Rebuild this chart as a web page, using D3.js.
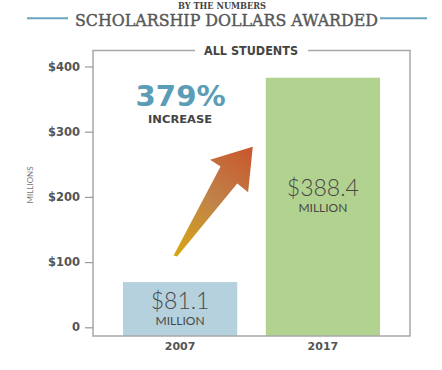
<!DOCTYPE html>
<html><head><meta charset="utf-8">
<script src="https://cdn.jsdelivr.net/npm/d3@7"></script>
<style>html,body{margin:0;padding:0;background:#fff;}svg{display:block;}</style>
</head><body>
<svg id="chart" width="442" height="370"></svg>
<script>
const categories = ["2007", "2017"];
const values = [81.1, 388.4];
const valueLabels = ["$81.1", "$388.4"];
const unitLabel = "MILLION";
const tickValues = [0, 100, 200, 300, 400];
const tickLabels = ["0", "$100", "$200", "$300", "$400"];
const barColors = ["#b4d1dd", "#b2d28f"];
const kicker = "BY THE NUMBERS";
const title = "SCHOLARSHIP DOLLARS AWARDED";
const subtitle = "ALL STUDENTS";
const yTitle = "MILLIONS";
const increaseValue = "379%";
const increaseLabel = "INCREASE";

const svg = d3.select("#chart");
const L = 93, R = 410, T = 50.5, B = 336;
const grey = "#555", sans = "'DejaVu Sans', sans-serif", lato = "Lato, 'Open Sans', sans-serif";

// Header
svg.append("text").attr("x", 222).attr("y", 8.5).attr("text-anchor", "middle")
  .attr("font-family", "'DejaVu Serif', serif").attr("font-weight", "bold").attr("font-size", 8.5)
  .attr("fill", "#444").attr("textLength", 88).attr("lengthAdjust", "spacingAndGlyphs").text(kicker);
svg.append("text").attr("x", 226.5).attr("y", 26).attr("text-anchor", "middle")
  .attr("font-family", "'DejaVu Serif', serif").attr("font-size", 17.5)
  .attr("fill", "#575757").attr("stroke", "#575757").attr("stroke-width", 0.45)
  .attr("textLength", 303).attr("lengthAdjust", "spacingAndGlyphs").text(title);
svg.append("line").attr("x1", 27).attr("x2", 68).attr("y1", 18.3).attr("y2", 18.3)
  .attr("stroke", "#6aa6bf").attr("stroke-width", 2);
svg.append("line").attr("x1", 380).attr("x2", 427).attr("y1", 18.3).attr("y2", 18.3)
  .attr("stroke", "#6aa6bf").attr("stroke-width", 2);

// Scales
const x = d3.scaleBand().domain(categories).range([L, R]).paddingInner(0.2).paddingOuter(0.21);
const yAxisScale = d3.scaleLinear().domain([0, 400]).range([327.3, 66.5]);
const yBar = d3.scaleLinear().domain([0, 400]).range([B, 70]);

// Bars
svg.selectAll("rect.bar").data(values).join("rect").attr("class", "bar")
  .attr("x", (d, i) => x(categories[i])).attr("width", x.bandwidth())
  .attr("y", d => yBar(d)).attr("height", d => yBar(0) - yBar(d))
  .attr("fill", (d, i) => barColors[i]);

// Frame
const frame = d3.path();
frame.moveTo(195, T); frame.lineTo(L, T); frame.lineTo(L, B); frame.lineTo(R, B); frame.lineTo(R, T); frame.lineTo(308, T);
svg.append("path").attr("d", frame.toString()).attr("fill", "none").attr("stroke", "#a8a8a8").attr("stroke-width", 1.5);
svg.append("text").attr("x", 251).attr("y", 55).attr("text-anchor", "middle")
  .attr("font-family", sans).attr("font-weight", "bold").attr("font-size", 11.5).attr("fill", "#444")
  .attr("textLength", 94).attr("lengthAdjust", "spacingAndGlyphs").text(subtitle);

// Axis
const axis = d3.axisLeft(yAxisScale).tickValues(tickValues).tickSize(8).tickPadding(5)
  .tickFormat((d, i) => tickLabels[i]);
const ag = svg.append("g").attr("transform", `translate(${L},0)`).call(axis);
ag.select(".domain").remove();
ag.selectAll(".tick line").attr("stroke", "#999").attr("stroke-width", 1.2);
ag.selectAll(".tick text").attr("font-family", sans).attr("font-weight", "bold").attr("font-size", 11.5).attr("fill", grey);
svg.append("text").attr("transform", "translate(33,185) rotate(-90)").attr("text-anchor", "middle")
  .attr("font-family", lato).attr("font-size", 8).attr("fill", "#777").text(yTitle);

// Category labels
svg.selectAll("text.cat").data(categories).join("text").attr("class", "cat")
  .attr("x", d => x(d) + x.bandwidth() / 2).attr("y", 350).attr("text-anchor", "middle")
  .attr("font-family", sans).attr("font-weight", "bold").attr("font-size", 11).attr("fill", grey).text(d => d);

// Value labels inside bars
svg.selectAll("text.val").data(values).join("text").attr("class", "val")
  .attr("x", (d, i) => x(categories[i]) + x.bandwidth() / 2)
  .attr("y", (d, i) => d > 200 ? yBar(d) + 118 : yBar(d) + 27)
  .attr("text-anchor", "middle").attr("font-family", lato).attr("font-weight", 300).attr("font-size", 23)
  .attr("fill", "#484848").text((d, i) => valueLabels[i]);
svg.selectAll("text.unit").data(values).join("text").attr("class", "unit")
  .attr("x", (d, i) => x(categories[i]) + x.bandwidth() / 2)
  .attr("y", (d, i) => d > 200 ? yBar(d) + 134 : yBar(d) + 43)
  .attr("text-anchor", "middle").attr("font-family", lato).attr("font-size", 12)
  .attr("fill", "#484848").text(unitLabel);

// Increase annotation
const cx0 = x(categories[0]) + x.bandwidth() / 2;
svg.append("text").attr("x", cx0 + 0.5).attr("y", 106).attr("text-anchor", "middle")
  .attr("font-family", sans).attr("font-weight", "bold").attr("font-size", 29).attr("fill", "#5b9db6")
  .attr("textLength", 90).attr("lengthAdjust", "spacingAndGlyphs").text(increaseValue);
svg.append("text").attr("x", cx0).attr("y", 123).attr("text-anchor", "middle")
  .attr("font-family", sans).attr("font-weight", "bold").attr("font-size", 11).attr("fill", "#444")
  .attr("textLength", 64).attr("lengthAdjust", "spacingAndGlyphs").text(increaseLabel);

// Arrow
const tail = [cx0 - 5, yBar(values[0]) - 27];
const tip = [x(categories[1]) - 13, yBar(values[1]) + 69];
const defs = svg.append("defs");
const grad = defs.append("linearGradient").attr("id", "arrowGrad").attr("gradientUnits", "userSpaceOnUse")
  .attr("x1", tail[0]).attr("y1", tail[1]).attr("x2", tip[0]).attr("y2", tip[1]);
grad.append("stop").attr("offset", 0).attr("stop-color", "#d8a612");
grad.append("stop").attr("offset", 0.5).attr("stop-color", "#c0824a");
grad.append("stop").attr("offset", 1).attr("stop-color", "#c9562c");
const dx = tip[0] - tail[0], dy = tip[1] - tail[1];
const pts = [
  [tail[0] - 1.5, tail[1] + 0.5],
  [tail[0] + dx * 0.585, tail[1] + dy * 0.80 - 2],
  [tail[0] + dx * 0.45, tail[1] + dy * 0.88],
  tip,
  [tail[0] + dx * 0.94, tail[1] + dy * 0.58],
  [tail[0] + dx * 0.80, tail[1] + dy * 0.66],
  [tail[0] + 2, tail[1] + 1.5]
];
svg.append("path").attr("d", d3.line()(pts) + "Z").attr("fill", "url(#arrowGrad)");
</script>
</body></html>
